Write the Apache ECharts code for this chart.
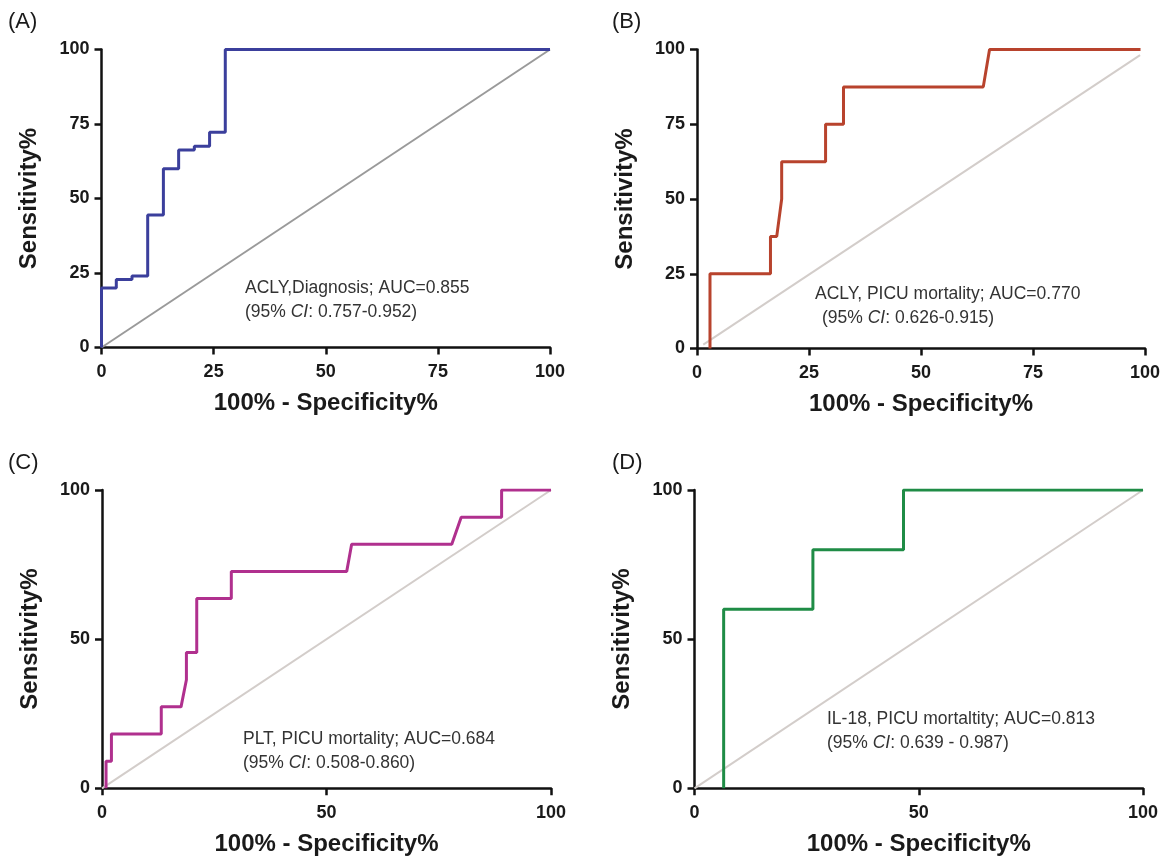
<!DOCTYPE html>
<html>
<head>
<meta charset="utf-8">
<script src="https://cdn.jsdelivr.net/npm/echarts@6/dist/echarts.min.js"></script>
<style>
html,body{margin:0;padding:0;background:#fff;}
#chart{width:1169px;height:860px;}
</style>
</head>
<body>
<div id="chart"></div>
<script>
// ---- data ----
const panelLabels = ['(A)', '(B)', '(C)', '(D)'];
const xTitle = '100% - Specificity%';
const yTitle = 'Sensitivity%';

const aX = [0, 0, 3.3, 3.3, 6.8, 6.8, 10.3, 10.3, 13.8, 13.8, 17.2, 17.2, 20.7, 20.7, 24.1, 24.1, 27.6, 27.6, 100];
const aY = [0, 20, 20, 22.8, 22.8, 24, 24, 44.5, 44.5, 60, 60, 66.3, 66.3, 67.5, 67.5, 72.2, 72.2, 100, 100];
const aDiagX = [0, 100];
const aDiagY = [0, 100];

const bX = [2.9, 2.9, 16.4, 16.4, 17.8, 18.9, 18.9, 28.7, 28.7, 32.7, 32.7, 63.9, 65.3, 99];
const bY = [0, 25, 25, 37.5, 37.5, 50, 62.5, 62.5, 75, 75, 87.5, 87.5, 100, 100];
const bDiagX = [1.4, 98.9];
const bDiagY = [1.3, 98.1];

const cX = [0.9, 0.9, 2.1, 2.1, 13.2, 13.2, 17.6, 18.8, 18.8, 21.1, 21.1, 28.8, 28.8, 54.5, 55.6, 77.9, 80, 89, 89, 100];
const cY = [0, 9.1, 9.1, 18.2, 18.2, 27.3, 27.3, 36.4, 45.5, 45.5, 63.6, 63.6, 72.7, 72.7, 81.8, 81.8, 90.9, 90.9, 100, 100];
const cDiagX = [0, 100];
const cDiagY = [0, 100];

const dX = [6.5, 6.5, 26.4, 26.4, 46.6, 46.6, 100];
const dY = [0, 60, 60, 80, 80, 100, 100];
const dDiagX = [0, 100];
const dDiagY = [0, 100];

const yIntervals = [25, 25, 50, 50];
const xIntervals = [25, 25, 50, 50];

const annLine1 = ['ACLY,Diagnosis; AUC=0.855', 'ACLY, PICU mortality; AUC=0.770', 'PLT, PICU mortality; AUC=0.684', 'IL-18, PICU mortaltity; AUC=0.813'];
const annCI = ['0.757-0.952', '0.626-0.915', '0.508-0.860', '0.639 - 0.987'];

// ---- styles / layout ----
const curveColors = ['#3b3f9c', '#b8432d', '#b0308e', '#1f8c46'];
const diagColors = ['#9a9a9a', '#d3cdca', '#d3cdca', '#d3cdca'];
const grids = [
  {left: 101.5, top: 49.5, width: 448.5, height: 298},
  {left: 697, top: 49.5, width: 448, height: 299},
  {left: 102, top: 490, width: 449, height: 298.3},
  {left: 694.5, top: 490, width: 448.5, height: 298.3}
];
const annPos = [
  {l1: [245, 279], l2: [245, 303]},
  {l1: [815, 285], l2: [822, 309]},
  {l1: [243, 730], l2: [243, 754]},
  {l1: [827, 710], l2: [827, 734]}
];
const labelPos = [[8, 11], [612, 11], [8, 452], [612, 452]];

const FONT = 'Liberation Sans, Arial, sans-serif';
const pair = (xs, ys) => xs.map((x, i) => [x, ys[i]]);
const curves = [pair(aX, aY), pair(bX, bY), pair(cX, cY), pair(dX, dY)];
const diags = [pair(aDiagX, aDiagY), pair(bDiagX, bDiagY), pair(cDiagX, cDiagY), pair(dDiagX, dDiagY)];

const xAxes = [], yAxes = [], series = [], graphics = [];
for (let i = 0; i < 4; i++) {
  const common = {
    type: 'value', min: 0, max: 100, gridIndex: i,
    splitLine: {show: false},
    axisLine: {show: true, onZero: false, lineStyle: {color: '#111', width: 2.5}},
    axisTick: {show: true, inside: false, length: 7, lineStyle: {color: '#111', width: 2.5}},
    axisLabel: {color: '#1a1a1a', fontFamily: FONT, fontWeight: 'bold', fontSize: 18},
    nameLocation: 'middle',
    nameTextStyle: {color: '#1a1a1a', fontFamily: FONT, fontWeight: 'bold', fontSize: 24}
  };
  xAxes.push(Object.assign({}, common, {
    interval: xIntervals[i], name: xTitle, nameGap: 44,
    axisLabel: Object.assign({}, common.axisLabel, {margin: 16})
  }));
  yAxes.push(Object.assign({}, common, {
    interval: yIntervals[i], name: yTitle, nameGap: 60,
    axisLabel: Object.assign({}, common.axisLabel, {margin: 12})
  }));
  series.push({
    type: 'line', xAxisIndex: i, yAxisIndex: i, data: diags[i],
    showSymbol: false, silent: true, z: 2,
    lineStyle: {color: diagColors[i], width: 2}
  });
  series.push({
    type: 'line', xAxisIndex: i, yAxisIndex: i, data: curves[i],
    showSymbol: false, silent: true, z: 3,
    lineStyle: {color: curveColors[i], width: 3}
  });
  graphics.push({
    type: 'text', left: labelPos[i][0], top: labelPos[i][1],
    style: {text: panelLabels[i], fill: '#1a1a1a', font: '22px ' + FONT}
  });
  graphics.push({
    type: 'text', left: annPos[i].l1[0], top: annPos[i].l1[1],
    style: {text: annLine1[i], fill: '#333', font: '17.5px ' + FONT}
  });
  graphics.push({
    type: 'text', left: annPos[i].l2[0], top: annPos[i].l2[1],
    style: {
      text: '{a|(95% }{b|CI}{a|: ' + annCI[i] + ')}',
      rich: {
        a: {fill: '#333', fontFamily: FONT, fontSize: 17.5},
        b: {fill: '#333', fontFamily: FONT, fontSize: 17.5, fontStyle: 'italic'}
      }
    }
  });
}

const chart = echarts.init(document.getElementById('chart'), null, {renderer: 'canvas'});
chart.setOption({
  animation: false,
  backgroundColor: '#fff',
  grid: grids.map(g => Object.assign({containLabel: false}, g)),
  xAxis: xAxes,
  yAxis: yAxes,
  series: series,
  graphic: graphics
});
</script>
</body>
</html>
